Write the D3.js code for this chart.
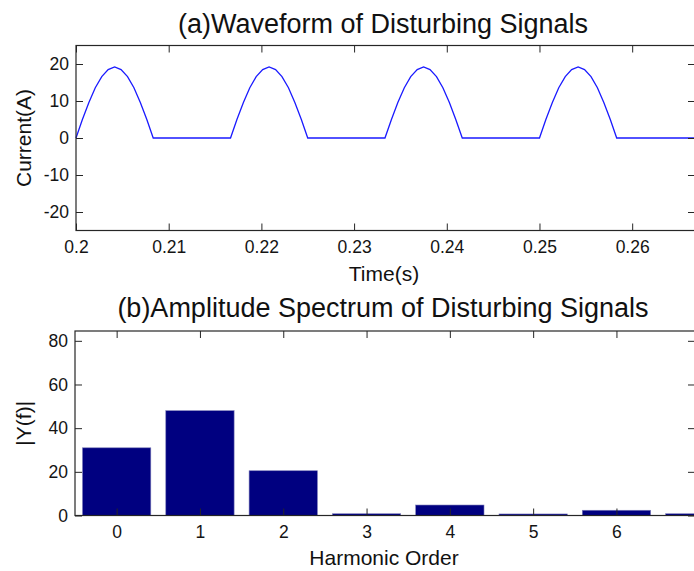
<!DOCTYPE html>
<html>
<head>
<meta charset="utf-8">
<script src="https://cdn.jsdelivr.net/npm/d3@7"></script>
<style>
  body { margin: 0; background: #fff; }
  svg { display: block; font-family: "Liberation Sans", Arial, sans-serif; }
</style>
</head>
<body>
<div id="chart"></div>
<script>
// (a) waveform samples
const timeS = [
  0.20000, 0.20069, 0.20139, 0.20208, 0.20278, 0.20347, 0.20417, 0.20486, 0.20556, 0.20625, 0.20694, 0.20764, 0.20833,
  0.21667, 0.21736, 0.21806, 0.21875, 0.21944, 0.22014, 0.22083, 0.22153, 0.22222, 0.22292, 0.22361, 0.22431, 0.22500,
  0.23333, 0.23403, 0.23472, 0.23542, 0.23611, 0.23681, 0.23750, 0.23819, 0.23889, 0.23958, 0.24028, 0.24097, 0.24167,
  0.25000, 0.25069, 0.25139, 0.25208, 0.25278, 0.25347, 0.25417, 0.25486, 0.25556, 0.25625, 0.25694, 0.25764, 0.25833,
  0.26667
];
const currentA = [
  0, 5.0, 9.6, 13.6, 16.6, 18.5, 19.2, 18.5, 16.6, 13.6, 9.6, 5.0, 0,
  0, 5.0, 9.6, 13.6, 16.6, 18.5, 19.2, 18.5, 16.6, 13.6, 9.6, 5.0, 0,
  0, 5.0, 9.6, 13.6, 16.6, 18.5, 19.2, 18.5, 16.6, 13.6, 9.6, 5.0, 0,
  0, 5.0, 9.6, 13.6, 16.6, 18.5, 19.2, 18.5, 16.6, 13.6, 9.6, 5.0, 0,
  0
];
const timeTicks = [0.2, 0.21, 0.22, 0.23, 0.24, 0.25, 0.26];
const currentTicks = [-20, -10, 0, 10, 20];

// (b) amplitude spectrum
const harmonicOrder = [0, 1, 2, 3, 4, 5, 6, 7];
const amplitude = [31, 48, 20.5, 0.8, 4.8, 0.7, 2.4, 0.8];
const ampTicks = [0, 20, 40, 60, 80];

const width = 694, height = 571;
const svg = d3.select("#chart").append("svg")
  .attr("width", width)
  .attr("height", height);

// plain hyphen for negatives, like the original
const fmt = d => String(d);

// draws box + inward ticks on all four sides, labels on left/bottom
function drawFrame(g, x, y, box, xTicks, yTicks) {
  const tk = 7;
  g.append("g")
    .attr("transform", `translate(0,${box.bottom})`)
    .call(d3.axisBottom(x).tickValues(xTicks).tickSize(-tk).tickSizeOuter(0).tickPadding(10).tickFormat(fmt));
  g.append("g")
    .attr("transform", `translate(0,${box.top})`)
    .call(d3.axisTop(x).tickValues(xTicks).tickSize(-tk).tickSizeOuter(0).tickFormat(""));
  g.append("g")
    .attr("transform", `translate(${box.left},0)`)
    .call(d3.axisLeft(y).tickValues(yTicks).tickSize(-tk).tickSizeOuter(0).tickPadding(7).tickFormat(fmt));
  g.append("g")
    .attr("transform", `translate(${box.right},0)`)
    .call(d3.axisRight(y).tickValues(yTicks).tickSize(-tk).tickSizeOuter(0).tickFormat(""));

  g.selectAll(".domain").remove();
  g.selectAll(".tick line").attr("stroke", "#262626");
  g.selectAll(".tick text")
    .attr("fill", "#141414")
    .style("font-size", "17.5px");

  g.append("rect")
    .attr("x", box.left)
    .attr("y", box.top)
    .attr("width", box.right - box.left)
    .attr("height", box.bottom - box.top)
    .attr("fill", "none")
    .attr("stroke", "#262626")
    .attr("stroke-width", 1.2);
}

// ---- (a) waveform ----
const boxA = { left: 76, right: 695, top: 45.5, bottom: 230.5 };
const xA = d3.scaleLinear().domain([0.2, 0.26667]).range([76, 694]);
const yA = d3.scaleLinear().domain([-25, 25]).range([boxA.bottom, boxA.top]);
const gA = svg.append("g");

const line = d3.line()
  .x((d, i) => xA(timeS[i]))
  .y(d => yA(d));

gA.append("path")
  .datum(currentA)
  .attr("fill", "none")
  .attr("stroke", "#1a1aff")
  .attr("stroke-width", 1.3)
  .attr("d", line);

drawFrame(gA, xA, yA, boxA, timeTicks, currentTicks);

gA.append("text")
  .attr("x", 383).attr("y", 33)
  .attr("text-anchor", "middle")
  .style("font-size", "27px")
  .attr("fill", "#111")
  .text("(a)Waveform of Disturbing Signals");

gA.append("text")
  .attr("x", 384).attr("y", 281)
  .attr("text-anchor", "middle")
  .style("font-size", "21px")
  .attr("fill", "#111")
  .text("Time(s)");

gA.append("text")
  .attr("transform", `translate(31,${(boxA.top + boxA.bottom) / 2}) rotate(-90)`)
  .attr("text-anchor", "middle")
  .style("font-size", "21px")
  .attr("fill", "#111")
  .text("Current(A)");

// ---- (b) spectrum ----
const boxB = { left: 75, right: 695, top: 331, bottom: 515.5 };
const xB = d3.scaleLinear().domain([-0.5, 7.5]).range([75, 741.4]);
const yB = d3.scaleLinear().domain([0, 84.5]).range([boxB.bottom, boxB.top]);
const gB = svg.append("g");

svg.append("defs").append("clipPath").attr("id", "clipB")
  .append("rect")
  .attr("x", boxB.left).attr("y", boxB.top)
  .attr("width", boxB.right - boxB.left)
  .attr("height", boxB.bottom - boxB.top);

const barW = 0.41;
gB.append("g")
  .attr("clip-path", "url(#clipB)")
  .selectAll("rect")
  .data(harmonicOrder)
  .join("rect")
  .attr("x", d => xB(d - barW))
  .attr("width", d => xB(d + barW) - xB(d - barW))
  .attr("y", (d, i) => yB(amplitude[i]))
  .attr("height", (d, i) => yB(0) - yB(amplitude[i]))
  .attr("fill", "#000080")
  .attr("stroke", "#7a7ab8")
  .attr("stroke-width", 0.6);

drawFrame(gB, xB, yB, boxB, harmonicOrder, ampTicks);

gB.append("text")
  .attr("x", 383).attr("y", 317)
  .attr("text-anchor", "middle")
  .style("font-size", "27px")
  .attr("fill", "#111")
  .text("(b)Amplitude Spectrum of Disturbing Signals");

gB.append("text")
  .attr("x", 384).attr("y", 565)
  .attr("text-anchor", "middle")
  .style("font-size", "21px")
  .attr("fill", "#111")
  .text("Harmonic Order");

gB.append("text")
  .attr("transform", `translate(31,${(boxB.top + boxB.bottom) / 2}) rotate(-90)`)
  .attr("text-anchor", "middle")
  .style("font-size", "21px")
  .attr("fill", "#111")
  .text("|Y(f)|");
</script>
</body>
</html>
